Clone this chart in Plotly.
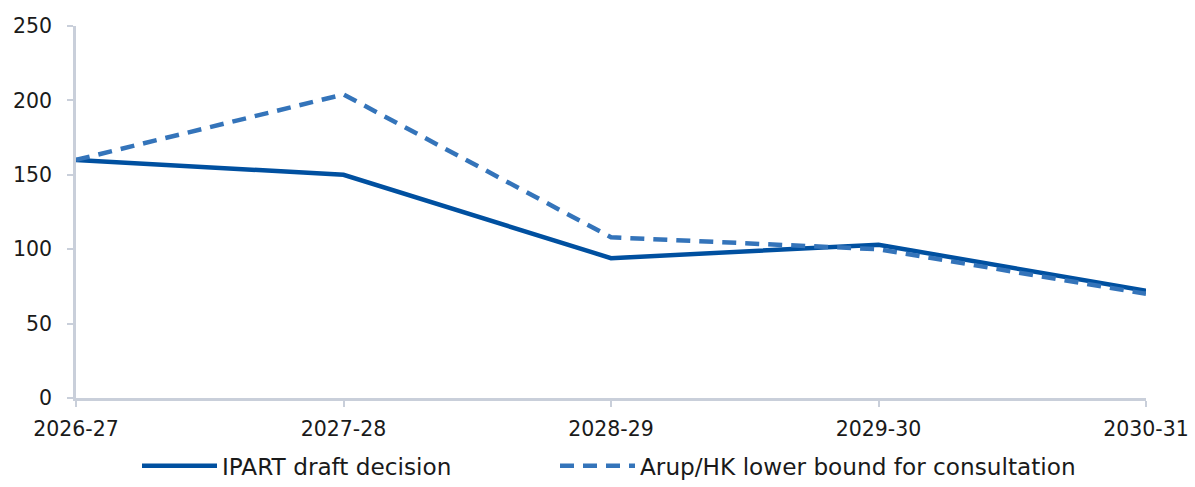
import plotly.graph_objects as go

# Financial years on the horizontal axis
years = ["2026-27", "2027-28", "2028-29", "2029-30", "2030-31"]

# Series values
ipart_draft = [160, 150, 94, 103, 72]
arup_hk_lower = [160, 204, 108, 100, 70]

y_ticks = [0, 50, 100, 150, 200, 250]

AXIS_GREY = "#C9CFDA"
FONT = dict(family="'DejaVu Sans', 'Open Sans', sans-serif", size=20.5, color="#1a1a1a")

W, H = 1195, 487

fig = go.Figure()

fig.add_trace(go.Scatter(
    x=years, y=ipart_draft, mode="lines",
    name="IPART draft decision",
    line=dict(color="#0050A0", width=4.5),
    legend="legend",
))
fig.add_trace(go.Scatter(
    x=years, y=arup_hk_lower, mode="lines",
    name="Arup/HK lower bound for consultation",
    line=dict(color="#3474BA", width=4.5, dash="14px,9px"),
    legend="legend2",
))

legend_common = dict(
    orientation="h",
    xanchor="left",
    yref="container", y=0.043, yanchor="middle",
    xref="container",
    itemwidth=75,
    font=dict(size=23.2),
    bgcolor="rgba(0,0,0,0)",
)

fig.update_layout(
    width=W, height=H,
    margin=dict(l=76, r=49, t=26, b=89, autoexpand=False),
    paper_bgcolor="white", plot_bgcolor="white",
    font=FONT,
    showlegend=True,
    legend=dict(legend_common, x=(142 - 5) / W),
    legend2=dict(legend_common, x=(560 - 5) / W),
)

fig.update_xaxes(
    type="category",
    range=[0, len(years) - 1],
    automargin=False,
    showgrid=False, zeroline=False,
    showline=True, linecolor=AXIS_GREY, linewidth=2.5,
    ticks="outside", ticklen=6, tickwidth=2, tickcolor=AXIS_GREY,
    ticklabelstandoff=5,
)
fig.update_yaxes(
    range=[0, 250],
    tickvals=y_ticks,
    automargin=False,
    showgrid=False, zeroline=False,
    showline=True, linecolor=AXIS_GREY, linewidth=2.5,
    ticks="outside", ticklen=6, tickwidth=2, tickcolor=AXIS_GREY,
    ticklabelstandoff=11,
)

fig.write_html("out.html")
